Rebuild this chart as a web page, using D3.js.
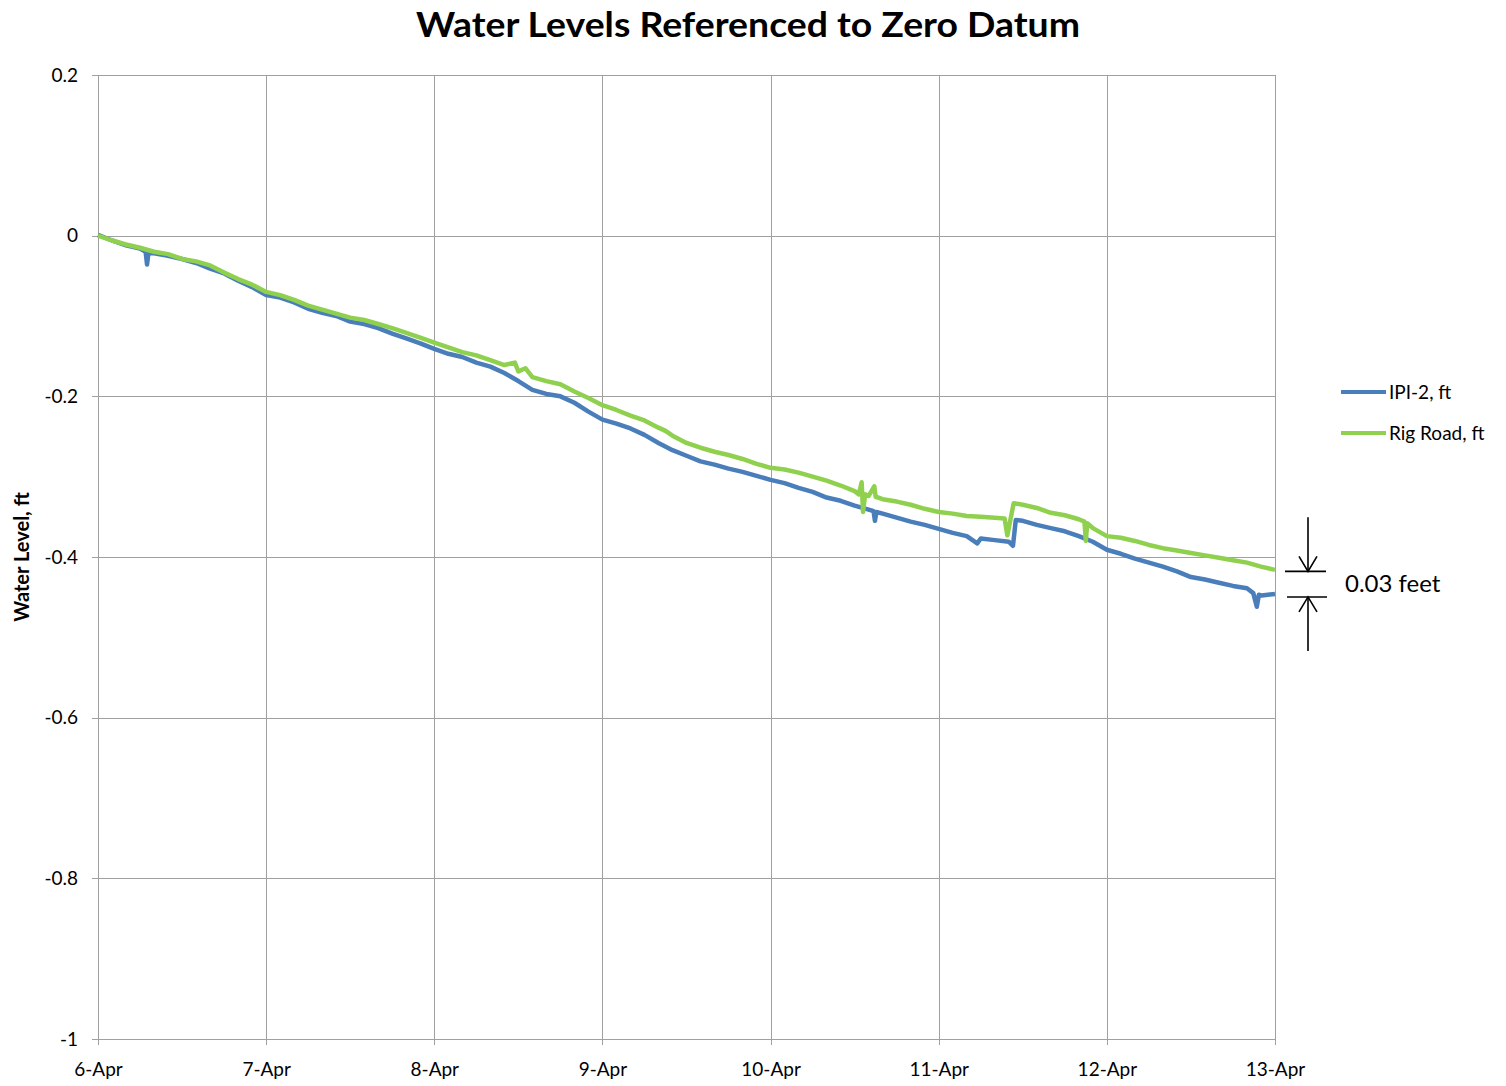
<!DOCTYPE html>
<html lang="en">
<head>
<meta charset="utf-8">
<title>Water Levels Referenced to Zero Datum</title>
<script src="https://d3js.org/d3.v7.min.js"></script>
<style>
  body, html { margin: 0; padding: 0; background: #fff; }
  svg { display: block; }
  text { font-family: Lato, "Open Sans", sans-serif; fill: #000; }
  .grid line { stroke: #a0a0a0; stroke-width: 1px; shape-rendering: crispEdges; }
  .axis path, .axis line { stroke: #a0a0a0; shape-rendering: crispEdges; }
  .axis text { font-size: 19px; }
</style>
</head>
<body>
<svg id="chart" width="1506" height="1086"></svg>
<script>
// hours since 6-Apr 00:00 and level in feet
var ipiHours = [0,2,4,6,6.8,7,7.2,8,10,12,14,16,18,20,22,24,26,28,30,32,34,36,38,40,42,44,46,48,50,52,54,56,58,60,62,64,66,68,70,72,74,76,78,80,82,84,86,88,90,92,94,96,98,100,102,104,106,108,110,110.7,110.9,111.1,112,114,116,118,120,122,124,125.5,126,128,130,130.6,131,132,134,136,138,140,142,144,146,148,150,152,154,156,158,160,162,164,164.9,165.4,165.7,166.1,168];
var ipiLevel = [0.001,-0.006,-0.012,-0.016,-0.020,-0.036,-0.021,-0.022,-0.025,-0.029,-0.034,-0.041,-0.047,-0.056,-0.064,-0.074,-0.077,-0.083,-0.091,-0.096,-0.100,-0.107,-0.110,-0.115,-0.122,-0.128,-0.134,-0.141,-0.147,-0.151,-0.158,-0.163,-0.171,-0.181,-0.192,-0.197,-0.200,-0.208,-0.219,-0.229,-0.234,-0.240,-0.248,-0.258,-0.267,-0.274,-0.281,-0.285,-0.290,-0.294,-0.299,-0.304,-0.308,-0.314,-0.319,-0.326,-0.330,-0.336,-0.341,-0.343,-0.355,-0.344,-0.346,-0.351,-0.356,-0.360,-0.365,-0.370,-0.374,-0.383,-0.377,-0.379,-0.381,-0.386,-0.354,-0.355,-0.360,-0.364,-0.368,-0.374,-0.381,-0.391,-0.396,-0.402,-0.407,-0.412,-0.418,-0.425,-0.428,-0.432,-0.436,-0.439,-0.445,-0.462,-0.447,-0.448,-0.446];

var rigHours = [0,2,4,6,8,10,12,14,16,18,20,22,24,26,28,30,32,34,36,38,40,42,44,46,48,50,52,54,56,58,59.5,60,61,62,64,66,68,70,72,74,76,78,80,81,82,84,86,88,90,92,94,96,98,100,102,104,106,108,108.6,109,109.2,109.5,110,110.8,111,112,114,116,118,120,122,124,126,128,129.4,129.8,130.2,130.7,132,134,136,138,140,140.8,141,141.2,142,144,146,148,150,152,154,156,158,160,162,164,166,168];
var rigLevel = [0.000,-0.006,-0.011,-0.015,-0.020,-0.023,-0.029,-0.032,-0.037,-0.046,-0.054,-0.061,-0.070,-0.074,-0.080,-0.087,-0.092,-0.097,-0.102,-0.105,-0.110,-0.115,-0.121,-0.127,-0.133,-0.139,-0.145,-0.149,-0.155,-0.161,-0.158,-0.169,-0.165,-0.176,-0.181,-0.185,-0.194,-0.202,-0.211,-0.217,-0.224,-0.230,-0.239,-0.243,-0.249,-0.258,-0.264,-0.269,-0.273,-0.278,-0.284,-0.289,-0.291,-0.295,-0.300,-0.305,-0.311,-0.318,-0.322,-0.307,-0.344,-0.322,-0.324,-0.312,-0.325,-0.328,-0.331,-0.335,-0.340,-0.344,-0.346,-0.349,-0.350,-0.351,-0.352,-0.373,-0.355,-0.333,-0.335,-0.339,-0.345,-0.348,-0.353,-0.356,-0.380,-0.358,-0.364,-0.374,-0.376,-0.380,-0.385,-0.389,-0.392,-0.395,-0.398,-0.401,-0.404,-0.407,-0.412,-0.416];

var seriesNames = ["IPI-2, ft", "Rig Road, ft"];
var seriesColors = ["#4a7ebb", "#8fd14f"];
var yTicks = [0.2, 0, -0.2, -0.4, -0.6, -0.8, -1];
var yTickLabels = ["0.2", "0", "-0.2", "-0.4", "-0.6", "-0.8", "-1"];
var diffLabel = "0.03 feet";

var svg = d3.select("#chart");
var margin = {left: 98, right: 231, top: 75, bottom: 47};
var width = 1506 - margin.left - margin.right,
    height = 1086 - margin.top - margin.bottom;

var start = Date.UTC(2013, 3, 6);
function toDate(h) { return new Date(start + h * 3600000); }

var x = d3.scaleUtc()
    .domain([toDate(0), toDate(168)])
    .range([0, width]);
var y = d3.scaleLinear()
    .domain([-1, 0.2])
    .range([height, 0]);

var g = svg.append("g").attr("transform", "translate(" + margin.left + "," + margin.top + ")");

// gridlines
var dayTicks = d3.range(0, 8).map(function(d) { return toDate(d * 24); });
g.append("g").attr("class", "grid")
  .selectAll("line").data(yTicks).enter().append("line")
    .attr("x1", 0).attr("x2", width)
    .attr("y1", function(d) { return Math.round(y(d)) + 0.5; })
    .attr("y2", function(d) { return Math.round(y(d)) + 0.5; });
g.append("g").attr("class", "grid")
  .selectAll("line").data(dayTicks).enter().append("line")
    .attr("y1", 0).attr("y2", height)
    .attr("x1", function(d) { return Math.round(x(d)) + 0.5; })
    .attr("x2", function(d) { return Math.round(x(d)) + 0.5; });

// axes
g.append("g").attr("class", "axis")
  .attr("transform", "translate(0," + height + ")")
  .call(d3.axisBottom(x).tickValues(dayTicks).tickSize(6).tickSizeOuter(0)
        .tickFormat(d3.utcFormat("%-d-%b")))
  .selectAll("text").attr("y", 37).attr("dy", 0);
g.append("g").attr("class", "axis")
  .call(d3.axisLeft(y).tickValues(yTicks).tickSize(6).tickSizeOuter(0)
        .tickFormat(function(d, i) { return yTickLabels[i]; }))
  .selectAll("text").attr("x", -20);

// lines
var line = d3.line()
    .x(function(d) { return x(toDate(d[0])); })
    .y(function(d) { return y(d[1]); });
var series = [d3.zip(ipiHours, ipiLevel), d3.zip(rigHours, rigLevel)];
g.selectAll(".series").data(series).enter().append("path")
  .attr("class", "series")
  .attr("fill", "none")
  .attr("stroke", function(d, i) { return seriesColors[i]; })
  .attr("stroke-width", 4.5)
  .attr("stroke-linejoin", "round")
  .attr("d", line);

// title
svg.append("text")
  .attr("x", 748).attr("y", 37)
  .attr("text-anchor", "middle")
  .attr("textLength", 664).attr("lengthAdjust", "spacingAndGlyphs")
  .style("font-size", "35px").style("font-weight", "bold")
  .text("Water Levels Referenced to Zero Datum");

// y axis title
svg.append("text")
  .attr("transform", "translate(29,557) rotate(-90)")
  .attr("text-anchor", "middle")
  .style("font-size", "20px").style("font-weight", "bold")
  .text("Water Level, ft");

// legend
var legend = svg.append("g").attr("transform", "translate(1341,392)");
var item = legend.selectAll("g").data(seriesNames).enter().append("g")
  .attr("transform", function(d, i) { return "translate(0," + i * 41 + ")"; });
item.append("line")
  .attr("x1", 0).attr("x2", 45).attr("y1", 0).attr("y2", 0)
  .attr("stroke", function(d, i) { return seriesColors[i]; })
  .attr("stroke-width", 4);
item.append("text")
  .attr("x", 48).attr("y", 7)
  .style("font-size", "19px")
  .text(function(d) { return d; });

// difference annotation at the last readings
var endX = margin.left + width;
var yTop = margin.top + y(rigLevel[rigLevel.length - 1]) + 1.5;
var yBot = margin.top + y(ipiLevel[ipiLevel.length - 1]) + 3;
var ann = svg.append("g").attr("stroke", "#000").attr("stroke-width", 1.6).attr("fill", "none");
ann.append("line").attr("x1", endX + 10).attr("x2", endX + 51).attr("y1", yTop).attr("y2", yTop);
ann.append("line").attr("x1", endX + 12).attr("x2", endX + 52).attr("y1", yBot).attr("y2", yBot);
ann.append("line").attr("x1", endX + 33).attr("x2", endX + 33).attr("y1", yTop - 54).attr("y2", yTop);
ann.append("polyline").attr("points",
  (endX + 24) + "," + (yTop - 15) + " " + (endX + 33) + "," + yTop + " " + (endX + 42) + "," + (yTop - 15));
ann.append("line").attr("x1", endX + 33).attr("x2", endX + 33).attr("y1", yBot).attr("y2", yBot + 54);
ann.append("polyline").attr("points",
  (endX + 24) + "," + (yBot + 15) + " " + (endX + 33) + "," + yBot + " " + (endX + 42) + "," + (yBot + 15));
svg.append("text")
  .attr("x", endX + 70).attr("y", (yTop + yBot) / 2 + 8)
  .style("font-size", "24px")
  .text(diffLabel);
</script>
</body>
</html>
